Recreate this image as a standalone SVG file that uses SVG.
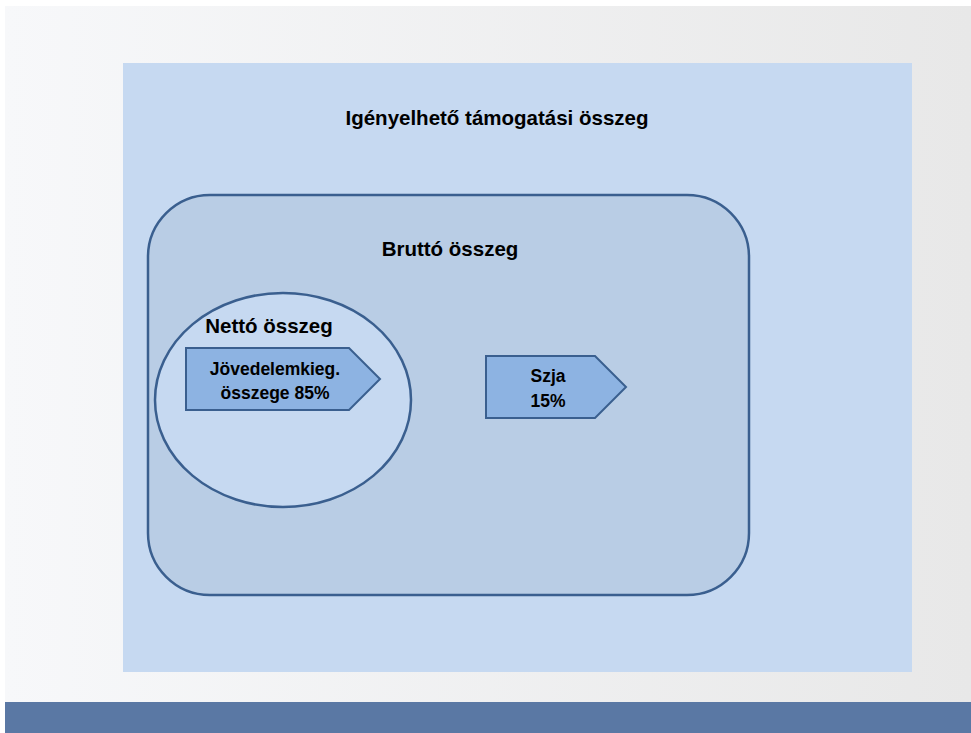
<svg xmlns="http://www.w3.org/2000/svg" width="971" height="733" viewBox="0 0 971 733">
<defs>
<linearGradient id="bg" x1="0" y1="0" x2="1" y2="0">
<stop offset="0" stop-color="#f7f8fa"/>
<stop offset="1" stop-color="#e8e8e8"/>
</linearGradient>
</defs>
<style>
.t{font-family:"Liberation Sans",Arial,sans-serif;font-weight:bold;fill:#000;text-anchor:middle}
.shape{stroke:#3a5f8f;stroke-width:2.5}
.arrow{fill:#8db3e2;stroke:#3a5f8f;stroke-width:2}
</style>
<rect x="0" y="0" width="971" height="733" fill="#ffffff"/>
<rect x="5" y="6" width="966" height="727" fill="url(#bg)"/>
<rect x="5" y="702" width="966" height="31" fill="#5a78a4"/>
<g id="outer">
<rect x="123" y="63" width="789" height="609" fill="#c6d9f1"/>
<text class="t" x="497" y="125" font-size="20.5">Igényelhető támogatási összeg</text>
</g>
<g id="brutto">
<rect class="shape" x="148" y="195" width="601" height="400" rx="62" ry="62" fill="#b9cde5"/>
<text class="t" x="450" y="256" font-size="20.5">Bruttó összeg</text>
</g>
<g id="netto">
<ellipse class="shape" cx="283" cy="400" rx="128" ry="107" fill="#c6d9f1"/>
<text class="t" x="269" y="333" font-size="20.5">Nettó összeg</text>
</g>
<g id="jovedelem">
<polygon class="arrow" points="186,348 349,348 380,379 349,410 186,410"/>
<text class="t" x="275" y="375" font-size="17.5">Jövedelemkieg.</text>
<text class="t" x="275" y="399" font-size="17.5">összege 85%</text>
</g>
<g id="szja">
<polygon class="arrow" points="486,356 595,356 626,387 595,418 486,418"/>
<text class="t" x="548" y="382" font-size="17.5">Szja</text>
<text class="t" x="548" y="407" font-size="17.5">15%</text>
</g>
<g id="connectors"/>
</svg>
